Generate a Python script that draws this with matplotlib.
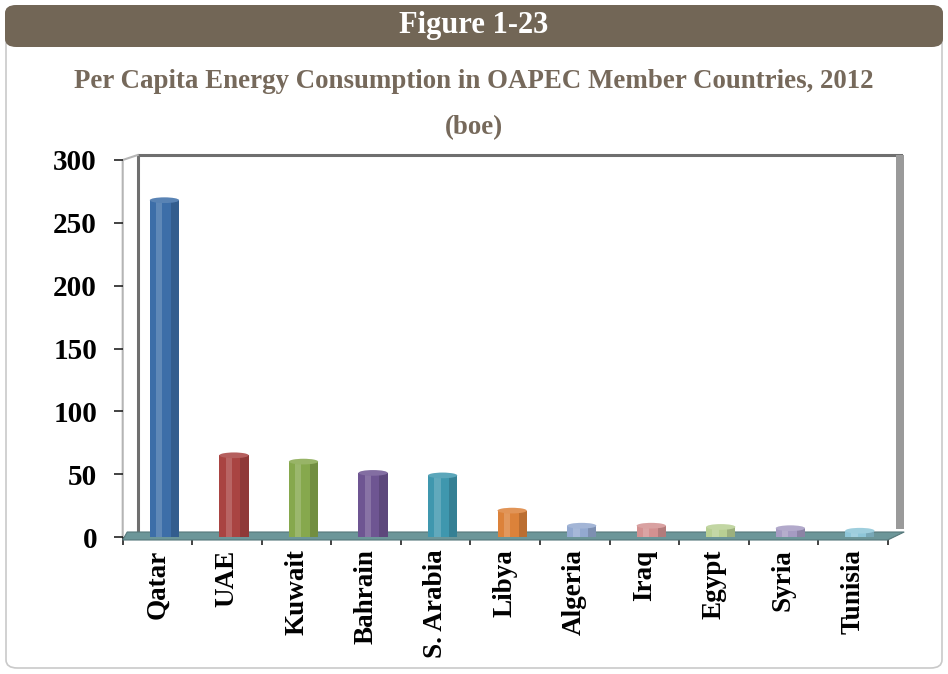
import matplotlib.pyplot as plt
from matplotlib.patches import FancyBboxPatch, Rectangle, Polygon, Ellipse
import numpy as np

# data (boe per capita)
countries = ["Qatar", "UAE", "Kuwait", "Bahrain", "S. Arabia", "Libya",
             "Algeria", "Iraq", "Egypt", "Syria", "Tunisia"]
values = [268, 65, 60, 51, 49, 21, 9, 9, 8, 7, 5]
bar_colors = ["#3d6ea8", "#a94442", "#86a84d", "#6e5592", "#3f97ae", "#dc823a",
              "#93a9d0", "#d39191", "#b8cf93", "#a59bc2", "#8ec6d8"]
yticks = [0, 50, 100, 150, 200, 250, 300]

plt.rcParams['font.family'] = ['Liberation Serif', 'DejaVu Serif']
plt.rcParams['font.weight'] = 'bold'

fig = plt.figure(figsize=(9.48, 6.74), dpi=100)
W, H = 948, 674

# outer frame and header bar
fig.patches.append(FancyBboxPatch((6 / W, 6 / H), 936 / W, 662 / H,
                                  boxstyle="round,pad=0,rounding_size=0.012",
                                  transform=fig.transFigure, fc="none",
                                  ec="#c9c9c9", lw=1.2, zorder=-2))
fig.patches.append(FancyBboxPatch((5 / W, (H - 47) / H), 938 / W, 42 / H,
                                  boxstyle="round,pad=0,rounding_size=0.012",
                                  transform=fig.transFigure, fc="#726656",
                                  ec="none", zorder=-1))
fig.text(0.5, 1 - 26 / H, "Figure 1-23", color="white", fontsize=22,
         fontweight="bold", ha="center", va="center")
fig.text(0.5, 1 - 82 / H,
         "Per Capita Energy Consumption in OAPEC Member Countries, 2012",
         color="#76695b", fontsize=19.4, fontweight="bold", ha="center", va="center")
fig.text(0.5, 1 - 128 / H, "(boe)", color="#76695b", fontsize=19.4,
         fontweight="bold", ha="center", va="center")

ax = fig.add_axes([122.7 / W, 1 - 537 / H, 765 / W, 377 / H])
ax.set_xlim(-0.5, len(countries) - 0.5)
ax.set_ylim(0, 300)
ax.patch.set_visible(False)
for s in ax.spines.values():
    s.set_visible(False)

# back wall / side wall in axes coords
tr = ax.transAxes
dx, dy = 15 / 765, 5 / 377
ax.plot([dx, dx, 1 + dx * 0.9], [0.015, 1 + dy, 1 + dy], color="#6f6f6f",
        lw=2.2, transform=tr, clip_on=False, zorder=1)
ax.plot([0, 0, dx], [0, 1, 1 + dy], color="#b5b5b5", lw=1.5,
        transform=tr, clip_on=False, zorder=1)
ax.add_patch(Rectangle((1 + dx * 0.55, 0.02), 8 / 765, 1 + dy - 0.02,
                       transform=tr, fc="#9a9a9a", ec="none", clip_on=False, zorder=1))
# floor, drawn behind the bars
f0, f1 = -3 / 377, 5 / 377
ax.add_patch(Polygon([(0, f0), (1, f0), (1 + dx * 1.1, f1), (dx * 0.3, f1)],
                     closed=True, transform=tr, fc="#6c9699", ec="#55777a",
                     lw=0.8, clip_on=False, zorder=2))

x = np.arange(len(countries))
bw = 0.42
off = 0.1
bars = ax.bar(x + off, values, width=bw, color=bar_colors, zorder=3,
              edgecolor="none")
# cylinder shading
for xi, v, c in zip(x, values, bar_colors):
    ax.bar(xi + off - bw * 0.18, v, width=bw * 0.22, color="white", alpha=0.18,
           zorder=4, edgecolor="none")
    ax.bar(xi + off + bw * 0.36, v, width=bw * 0.28, color="black", alpha=0.15,
           zorder=4, edgecolor="none")
    ax.add_patch(Ellipse((xi + off, v), bw, 4.5, fc=c, ec="none", zorder=4.5))
    ax.add_patch(Ellipse((xi + off, v), bw, 4.5, fc="white", alpha=0.15,
                         ec="none", zorder=4.6))

ax.set_yticks(yticks)
ax.set_yticklabels([str(t) for t in yticks], fontsize=21, fontweight="bold")
ax.tick_params(axis="y", length=6.5, width=1.2, pad=12, color="#222222")
ax.set_xticks(np.arange(len(countries) + 1) - 0.5, minor=True)
ax.set_xticks(x)
ax.set_xticklabels(countries, rotation=90, fontsize=19.5, fontweight="bold",
                   va="top")
ax.tick_params(axis="x", which="major", length=0, pad=9)
ax.tick_params(axis="x", which="minor", length=6, width=1.2, color="#222222",
               direction="out")

fig.savefig("out.png", dpi=100)
